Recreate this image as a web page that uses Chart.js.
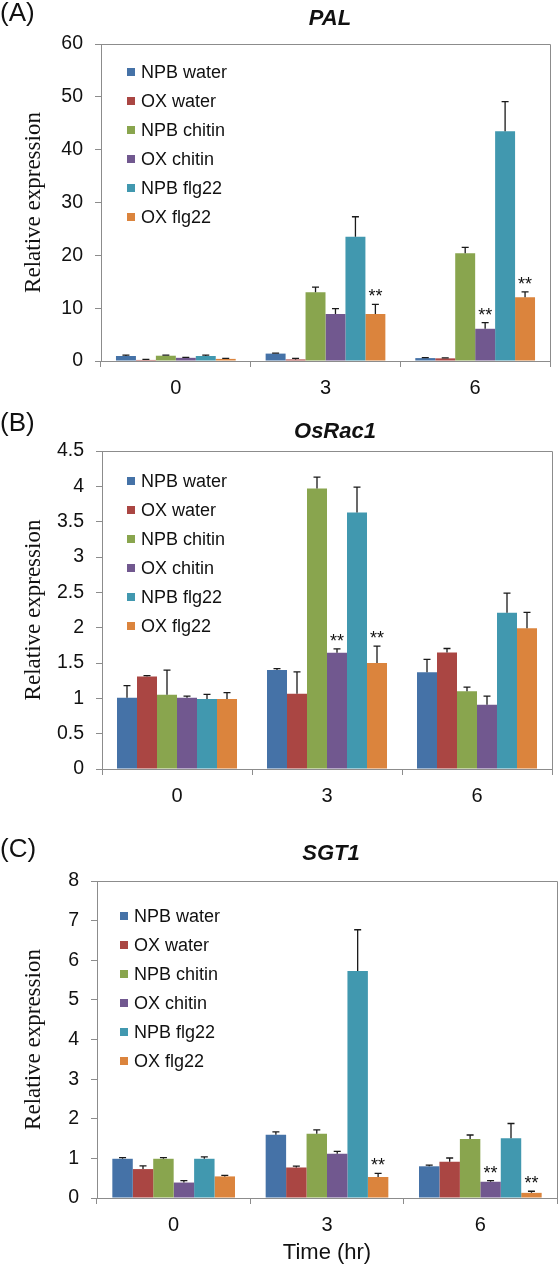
<!DOCTYPE html>
<html>
<head>
<meta charset="UTF-8">
<title>PAL / OsRac1 / SGT1 relative expression</title>
<script src="https://cdn.jsdelivr.net/npm/chart.js"></script>
<style>
  body { margin: 0; background: #fff; font-family: "Liberation Sans", Arial, sans-serif; }
  #wrap { position: relative; width: 559px; height: 1267px; overflow: hidden; }
  canvas { position: absolute; left: 0; }
  .panel { position: absolute; left: 0; font-size: 26px; line-height: 30px; color: #111; }
  .gene { position: absolute; width: 200px; text-align: center; font-weight: bold; font-style: italic; font-size: 22px; line-height: 26px; color: #111; }
</style>
</head>
<body>
<div id="wrap">
  <canvas id="palChart" width="559" height="400" style="top:0px"></canvas>
  <canvas id="racChart" width="559" height="420" style="top:400px"></canvas>
  <canvas id="sgtChart" width="559" height="447" style="top:820px"></canvas>
  <div class="panel" style="top:-3px">(A)</div>
  <div class="gene" style="left:230px; top:5px">PAL</div>
  <div class="panel" style="top:407px">(B)</div>
  <div class="gene" style="left:235px; top:418px">OsRac1</div>
  <div class="panel" style="top:833px">(C)</div>
  <div class="gene" style="left:231px; top:840px">SGT1</div>
</div>
<script>
// categories (hours after treatment) and series
var timeLabels = ['0', '3', '6'];
var seriesNames = ['NPB water', 'OX water', 'NPB chitin', 'OX chitin', 'NPB flg22', 'OX flg22'];

// PAL: one row per series, values at 0 / 3 / 6 hr
var palMean = [
  [0.95, 1.4, 0.55],
  [0.2, 0.3, 0.5],
  [1.0, 13.0, 20.4],
  [0.6, 8.9, 6.1],
  [0.95, 23.5, 43.5],
  [0.4, 8.9, 12.05]
];
var palErr = [
  [0.15, 0.1, 0.1],
  [0.1, 0.2, 0.1],
  [0.1, 1.0, 1.1],
  [0.1, 1.0, 1.15],
  [0.15, 3.8, 5.6],
  [0.1, 1.8, 1.05]
];
var palSig = [
  [0, 0, 0], [0, 0, 0], [0, 0, 0], [0, 0, 1], [0, 0, 0], [0, 1, 1]
];

// OsRac1
var racMean = [
  [1.01, 1.40, 1.37],
  [1.31, 1.065, 1.65],
  [1.05, 3.97, 1.10],
  [1.01, 1.645, 0.91],
  [0.99, 3.63, 2.21],
  [0.99, 1.50, 1.99]
];
var racErr = [
  [0.17, 0.02, 0.18],
  [0.01, 0.31, 0.055],
  [0.35, 0.16, 0.06],
  [0.02, 0.055, 0.12],
  [0.065, 0.36, 0.28],
  [0.09, 0.24, 0.225]
];
var racSig = [
  [0, 0, 0], [0, 0, 0], [0, 0, 0], [0, 1, 0], [0, 0, 0], [0, 1, 0]
];

// SGT1
var sgtMean = [
  [0.99, 1.595, 0.80],
  [0.73, 0.77, 0.915],
  [0.99, 1.62, 1.49],
  [0.39, 1.115, 0.41],
  [0.99, 5.73, 1.51],
  [0.545, 0.53, 0.13]
];
var sgtErr = [
  [0.03, 0.075, 0.03],
  [0.08, 0.035, 0.095],
  [0.03, 0.10, 0.10],
  [0.05, 0.06, 0.03],
  [0.05, 1.04, 0.37],
  [0.025, 0.09, 0.04]
];
var sgtSig = [
  [0, 0, 0], [0, 0, 0], [0, 0, 0], [0, 0, 1], [0, 0, 0], [0, 1, 1]
];

var seriesColors = ['#4572A7', '#AA4643', '#89A54E', '#71588F', '#4198AF', '#DB843D'];
var axisGrey = '#8c8c8c';

// error bars (upper half only) plus the ** marks
var errorBars = {
  id: 'errorBars',
  afterDatasetsDraw: function (chart) {
    var ctx = chart.ctx, y = chart.scales.y;
    ctx.save();
    chart.data.datasets.forEach(function (ds, i) {
      chart.getDatasetMeta(i).data.forEach(function (bar, j) {
        var top = y.getPixelForValue(ds.data[j] + ds.errors[j]);
        ctx.strokeStyle = '#1a1a1a';
        ctx.lineWidth = 1.3;
        ctx.beginPath();
        ctx.moveTo(bar.x, bar.y);
        ctx.lineTo(bar.x, top);
        ctx.moveTo(bar.x - 3.5, top);
        ctx.lineTo(bar.x + 3.5, top);
        ctx.stroke();
        if (ds.stars[j]) {
          ctx.fillStyle = '#111';
          ctx.font = '18px "Liberation Sans", Arial, sans-serif';
          ctx.textAlign = 'center';
          ctx.textBaseline = 'alphabetic';
          ctx.fillText('**', bar.x, top - 2);
        }
      });
    });
    ctx.restore();
  }
};

// legend drawn inside the plot area, one entry per row
var insideLegend = {
  id: 'insideLegend',
  afterDraw: function (chart, args, opts) {
    var ctx = chart.ctx;
    ctx.save();
    ctx.font = '18px "Liberation Sans", Arial, sans-serif';
    ctx.textAlign = 'left';
    ctx.textBaseline = 'middle';
    chart.data.datasets.forEach(function (ds, i) {
      var ry = opts.y + i * opts.step;
      ctx.fillStyle = ds.backgroundColor;
      ctx.fillRect(opts.x, ry - 4, 8, 8);
      ctx.fillStyle = '#111';
      ctx.fillText(ds.label, opts.x + 14, ry + 1);
    });
    ctx.restore();
  }
};

// top and right edges of the plot box
var plotFrame = {
  id: 'plotFrame',
  afterDraw: function (chart) {
    var a = chart.chartArea, ctx = chart.ctx;
    ctx.save();
    ctx.strokeStyle = axisGrey;
    ctx.lineWidth = 1;
    ctx.beginPath();
    ctx.moveTo(a.left, Math.round(a.top) + 0.5);
    ctx.lineTo(Math.round(a.right) + 0.5, Math.round(a.top) + 0.5);
    ctx.lineTo(Math.round(a.right) + 0.5, a.bottom);
    ctx.stroke();
    ctx.restore();
  }
};

function buildChart(id, means, errs, sig, opt) {
  var datasets = seriesNames.map(function (name, i) {
    return {
      label: name,
      data: means[i],
      errors: errs[i],
      stars: sig[i],
      backgroundColor: seriesColors[i],
      borderWidth: 0,
      categoryPercentage: 0.8,
      barPercentage: 1.0
    };
  });

  return new Chart(document.getElementById(id), {
    type: 'bar',
    data: { labels: timeLabels, datasets: datasets },
    options: {
      responsive: false,
      animation: false,
      devicePixelRatio: 1,
      layout: { padding: opt.padding },
      plugins: {
        legend: { display: false },
        tooltip: { enabled: false },
        insideLegend: { x: opt.legendX, y: opt.legendY, step: 29 }
      },
      scales: {
        x: {
          afterFit: function (s) { s.height = opt.xHeight; },
          grid: { offset: true, drawOnChartArea: false, tickLength: 6, color: axisGrey },
          border: { color: axisGrey },
          ticks: { color: '#111', padding: 9, font: { size: 20, family: '"Liberation Sans", Arial' } },
          title: {
            display: !!opt.xTitle,
            text: opt.xTitle || '',
            color: '#111',
            padding: { top: 0, bottom: 1 },
            font: { size: 22, family: '"Liberation Sans", Arial' }
          }
        },
        y: {
          min: 0,
          max: opt.yMax,
          afterFit: function (s) { s.width = opt.yWidth; },
          grid: { drawOnChartArea: false, tickLength: 6, color: axisGrey },
          border: { color: axisGrey },
          ticks: {
            stepSize: opt.yStep,
            color: '#111',
            padding: 12,
            font: { size: 19.5, family: '"Liberation Sans", Arial' },
            callback: function (v) { return String(v); }
          },
          title: {
            display: true,
            text: 'Relative expression',
            color: '#111',
            padding: { top: 20, bottom: 0 },
            font: { size: 23, family: '"Liberation Serif", "Times New Roman", serif' }
          }
        }
      }
    },
    plugins: [errorBars, insideLegend, plotFrame]
  });
}

buildChart('palChart', palMean, palErr, palSig, {
  padding: { top: 44, right: 9, bottom: 0, left: 0 },
  yWidth: 101, xHeight: 39, yMax: 60, yStep: 10,
  legendX: 127, legendY: 72
});

buildChart('racChart', racMean, racErr, racSig, {
  padding: { top: 51, right: 7, bottom: 0, left: 0 },
  yWidth: 102, xHeight: 51, yMax: 4.5, yStep: 0.5,
  legendX: 127, legendY: 81
});

buildChart('sgtChart', sgtMean, sgtErr, sgtSig, {
  padding: { top: 61, right: 2, bottom: 0, left: 0 },
  yWidth: 97, xHeight: 69, yMax: 8, yStep: 1,
  legendX: 120, legendY: 96, xTitle: 'Time (hr)'
});
</script>
</body>
</html>
